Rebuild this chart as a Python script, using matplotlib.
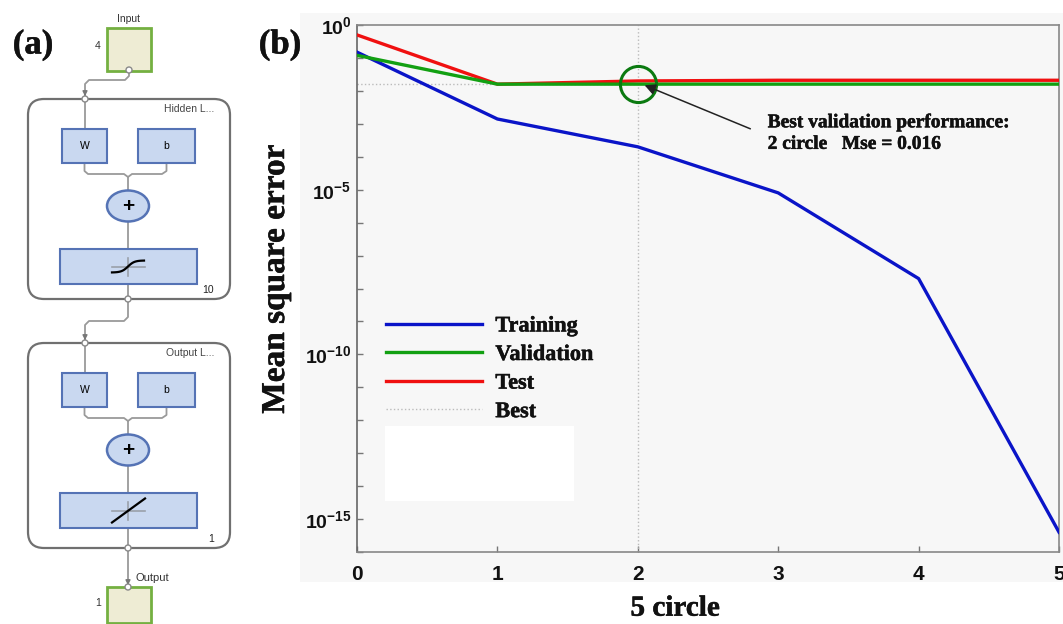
import numpy as np
import matplotlib
matplotlib.use("Agg")
import matplotlib.pyplot as plt
from matplotlib.patches import Rectangle, FancyBboxPatch, Ellipse, Circle
import matplotlib.patheffects as pe

# ---------------- data (panel b) ----------------
epochs = [0, 1, 2, 3, 4, 5]
train_mse = [0.15, 1.4e-3, 2.0e-4, 8.0e-6, 2.0e-8, 4.0e-16]
valid_mse = [0.12, 0.016, 0.016, 0.016, 0.016, 0.016]
test_mse = [0.5, 0.016, 0.020, 0.021, 0.021, 0.021]
best_epoch = 2
best_mse = 0.016
series_labels = ["Training", "Validation", "Test", "Best"]
x_ticks = [0, 1, 2, 3, 4, 5]
y_decades = list(range(0, -17, -1))
y_labelled = [0, -5, -10, -15]

plt.rcParams['mathtext.fontset'] = 'custom'
plt.rcParams['mathtext.rm'] = 'Liberation Sans:bold'
plt.rcParams['mathtext.bf'] = 'Liberation Sans:bold'
plt.rcParams['mathtext.it'] = 'Liberation Sans:bold'

SERIF = 'Liberation Serif'
SANS = 'Liberation Sans'
# slightly heavier strokes to match the thick bold lettering of the reference
BOLD_FX = [pe.withStroke(linewidth=0.35, foreground='#111111')]

W, H = 1063, 624
fig = plt.figure(figsize=(W / 100, H / 100), dpi=100)

# ---------------- background / diagram canvas (pixel coords) ----------------
ax0 = fig.add_axes([0, 0, 1, 1])
ax0.set_xlim(0, W)
ax0.set_ylim(H, 0)
ax0.axis('off')

ax0.add_patch(Rectangle((300, 13), 763, 569, facecolor='#f7f7f7', edgecolor='none'))

ax0.text(33, 45, "(a)", fontsize=25, fontweight='bold', family=SERIF, ha='center', va='center',
         color='#111111', path_effects=BOLD_FX)
ax0.text(280, 45, "(b)", fontsize=25, fontweight='bold', family=SERIF, ha='center', va='center',
         color='#111111', path_effects=BOLD_FX)

grey = '#9a9a9a'
box_fc = '#c9d8f0'
box_ec = '#5573b5'
io_fc = '#eeecd4'
io_ec = '#74b041'

def wire(pts, arrow=False):
    xs, ys = zip(*pts)
    ax0.plot(xs, ys, color=grey, lw=1.3, solid_capstyle='round')
    if arrow:
        x, y = pts[-1]
        ax0.annotate('', xy=(x, y), xytext=(x, y - 8),
                     arrowprops=dict(arrowstyle='-|>', color='#777777', lw=1.0, mutation_scale=7))

def node(x, y):
    ax0.add_patch(Circle((x, y), 3, facecolor='white', edgecolor='#888888', lw=1, zorder=5))

def layer(top, bottom, title, size_label, linear):
    ax0.add_patch(FancyBboxPatch((28, top), 202, bottom - top,
                                 boxstyle='round,pad=0,rounding_size=16',
                                 facecolor='white', edgecolor='#707070', lw=1.6, zorder=1))
    ax0.text(214, top + 10, title, fontsize=7.5, family=SANS, color='#444444', ha='right', va='center', zorder=6)
    ax0.text(214, bottom - 9, size_label, fontsize=7.5, family=SANS, color='#222222', ha='right', va='center', zorder=6)
    wtop = top + 30
    ax0.add_patch(Rectangle((62, wtop), 45, 34, facecolor=box_fc, edgecolor=box_ec, lw=1.5, zorder=3))
    ax0.add_patch(Rectangle((138, wtop), 57, 34, facecolor=box_fc, edgecolor=box_ec, lw=1.5, zorder=3))
    ax0.text(84.5, wtop + 17, "W", fontsize=7.5, family=SANS, ha='center', va='center', zorder=4)
    ax0.text(166.5, wtop + 17, "b", fontsize=7.5, family=SANS, ha='center', va='center', zorder=4)
    wire([(85, top), (85, wtop)])
    merge = wtop + 45
    wire([(84.5, wtop + 34), (84.5, merge - 3), (88, merge), (124, merge), (128, merge + 3)])
    wire([(166.5, wtop + 34), (166.5, merge - 3), (162, merge), (132, merge), (128, merge + 3)])
    cy = wtop + 77
    wire([(128, merge + 3), (128, cy)])
    ax0.add_patch(Ellipse((128, cy), 42, 31, facecolor=box_fc, edgecolor=box_ec, lw=1.8, zorder=3))
    ax0.text(128, cy, "+", fontsize=15, fontweight='bold', family=SANS, ha='center', va='center', zorder=4)
    btop = cy + 43
    wire([(128, cy), (128, btop)])
    ax0.add_patch(Rectangle((60, btop), 137, 35, facecolor=box_fc, edgecolor=box_ec, lw=1.5, zorder=3))
    sy = btop + 17.5
    ax0.plot([112, 145], [sy, sy], color='#9aa0aa', lw=1.2, zorder=4)
    ax0.plot([128, 128], [sy - 9, sy + 9], color='#9aa0aa', lw=1.2, zorder=4)
    if linear:
        ax0.plot([112, 145], [sy + 12, sy - 12], color='black', lw=1.6, zorder=5)
    else:
        t = np.linspace(-1, 1, 40)
        ax0.plot(128 + 16 * t, sy - 6 * np.tanh(2.5 * t), color='black', lw=1.6, zorder=5)
    wire([(128, btop + 35), (128, bottom)])
    node(85, top)
    node(128, bottom)

# input block
ax0.add_patch(Rectangle((107, 28), 44, 43, facecolor=io_fc, edgecolor=io_ec, lw=2, zorder=3))
ax0.text(129, 19, "Input", fontsize=7.5, family=SANS, color='#333333', ha='center', va='center')
ax0.text(98, 46, "4", fontsize=7.5, family=SANS, color='#333333', ha='center', va='center')
wire([(129, 70), (129, 76), (125, 80), (89, 80), (85, 84), (85, 99)], arrow=True)
node(129, 70)

layer(99, 299, "Hidden L...", "10", linear=False)
wire([(128, 299), (128, 317), (124, 321), (89, 321), (85, 325), (85, 343)], arrow=True)
layer(343, 548, "Output L...", "1", linear=True)

# output block
wire([(128, 548), (128, 588)], arrow=True)
ax0.add_patch(Rectangle((107, 587), 44, 36, facecolor=io_fc, edgecolor=io_ec, lw=2, zorder=3))
node(128, 587)
ax0.text(135, 578, "Output", fontsize=8, family=SANS, color='#333333', ha='left', va='center')
ax0.text(98, 603, "1", fontsize=7.5, family=SANS, color='#333333', ha='center', va='center')

# ---------------- panel (b) ----------------
L, R, T, B = 357, 1059, 25, 552
ax = fig.add_axes([L / W, (H - B) / H, (R - L) / W, (B - T) / H])
ax.set_facecolor('#f7f7f7')
ax.set_yscale('log')
ax.set_xlim(0, 5)
ax.set_ylim(1e-16, 1e0)

c_train, c_valid, c_test = '#0a14c8', '#12a012', '#f01010'
ax.plot(epochs, train_mse, color=c_train, lw=2.4, label=series_labels[0], zorder=4)
ax.plot(epochs, valid_mse, color=c_valid, lw=2.4, label=series_labels[1], zorder=4)
ax.plot(epochs, test_mse, color=c_test, lw=2.4, label=series_labels[2], zorder=3)
ax.plot([0, best_epoch], [best_mse, best_mse], color='#bbbbbb', lw=1.0, ls=':', label=series_labels[3], zorder=2)
ax.axvline(best_epoch, color='#bbbbbb', lw=1.0, ls=':', zorder=2)

ax.plot([best_epoch], [best_mse], marker='o', ms=26, mfc='none', mec='#0b7a10', mew=2.2, zorder=6)

ax.annotate('', xy=(best_epoch + 0.03, best_mse), xycoords='data',
            xytext=(0.564, 0.801), textcoords='axes fraction',
            arrowprops=dict(arrowstyle='-|>', color='#222222', lw=1.1, mutation_scale=16), zorder=7)
ax.text(0.585, 0.794, "Best validation performance:\n2 circle   Mse = 0.016",
        transform=ax.transAxes, fontsize=14, fontweight='bold', family=SERIF,
        ha='left', va='center', linespacing=1.35, color='#111111', path_effects=BOLD_FX)

# white patch in legend area
ax.add_patch(Rectangle((0.040, 0.097), 0.269, 0.142, transform=ax.transAxes,
                       facecolor='white', edgecolor='none', zorder=5))

leg = ax.legend(loc='upper left', bbox_to_anchor=(0.042, 0.448), frameon=False,
                borderpad=0, borderaxespad=0, handlelength=4.3, handletextpad=0.6,
                labelspacing=0.36, prop={'family': SERIF, 'weight': 'bold', 'size': 16})
for t in leg.get_texts():
    t.set_color('#111111')
    t.set_path_effects(BOLD_FX)

ax.set_xticks(x_ticks)
ax.set_xticklabels([str(v) for v in x_ticks], fontsize=15, fontweight='bold', family=SANS)
yt = [10.0 ** k for k in y_decades]
ax.set_yticks(yt)
ax.set_yticklabels([(r'$\mathbf{10^{%d}}$' % k) if k in y_labelled else '' for k in y_decades], fontsize=14)
ax.minorticks_off()
ax.tick_params(axis='both', direction='in', length=4, width=1, colors='#777777', labelcolor='#111111',
               top=False, right=False)
ax.tick_params(axis='x', pad=9)
ax.tick_params(axis='y', pad=4)
for s in ax.spines.values():
    s.set_color('#888888')
    s.set_linewidth(1.2)
ax.spines['left'].set_color('#666666')

xl = ax.set_xlabel("5 circle", fontsize=21, fontweight='bold', family=SERIF, color='#111111')
xl.set_path_effects(BOLD_FX)
ax.xaxis.set_label_coords(0.453, -0.081)
yl = ax.set_ylabel("Mean square error", fontsize=24, fontweight='bold', family=SERIF, color='#111111')
yl.set_path_effects(BOLD_FX)
ax.yaxis.set_label_coords(-0.094, 0.518)

fig.savefig("out.png", dpi=100)
